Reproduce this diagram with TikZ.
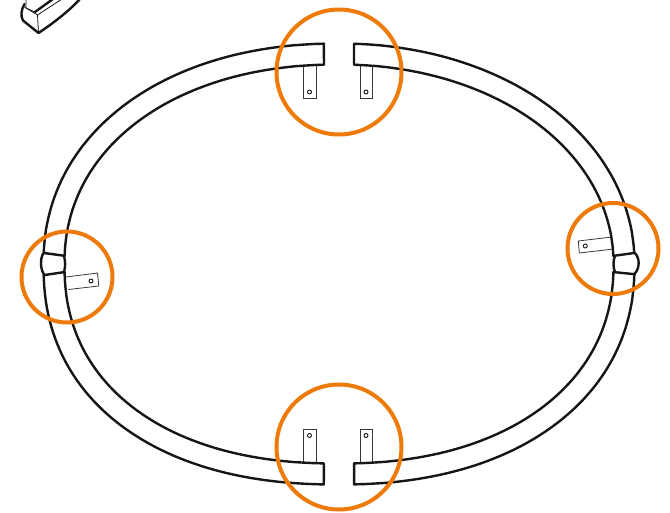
\documentclass[tikz,border=0pt]{standalone}
\definecolor{ringorange}{HTML}{EE7A0A}
\definecolor{ink}{HTML}{161616}
% #1,#2 quadrant signs, #3 exponent, #4,#5 outer and inner half-height of the joint gap
\newcommand{\ringquad}[5]{%
  \pgfmathsetmacro{\ta}{asin(pow(#4/220.5,#3/2))}%
  \pgfmathsetmacro{\tb}{acos(pow(15/295.5,#3/2))}%
  \pgfmathsetmacro{\tc}{acos(pow(15/274.5,#3/2))}%
  \pgfmathsetmacro{\td}{asin(pow(#5/199.5,#3/2))}%
  \draw[ring] plot[domain=\ta:\tb,samples=120] ({339+#1*295.5*pow(cos(\x),2/#3)},{264-#2*220.5*pow(sin(\x),2/#3)})
    -- plot[domain=\tc:\td,samples=120] ({339+#1*274.5*pow(cos(\x),2/#3)},{264-#2*199.5*pow(sin(\x),2/#3)}) -- cycle;}
\tikzset{
  ring/.style={draw=ink,line width=2.4pt,line join=round,line cap=round},
  tab/.style={draw=ink!85,line width=0.8pt,line join=miter},
  hole/.style={draw=ink,line width=0.9pt,fill=white},
  callout/.style={draw=ringorange,line width=4pt},
  thin part/.style={draw=ink,line width=0.8pt},
}
\begin{document}
\begin{tikzpicture}[x=1pt,y=-1pt]
\useasboundingbox (0,0) rectangle (670,512);
\fill[white] (0,0) rectangle (670,512);
% tabs
\draw[tab] (303,65) -- (303,98.5) -- (316,98.5) -- (316,64);
\draw[tab] (360,64) -- (360,98.5) -- (372.5,98.5) -- (372.5,65);
\draw[tab] (303,462.5) -- (303,429) -- (316,429) -- (316,463);
\draw[tab] (360,463) -- (360,429) -- (372.5,429) -- (372.5,462.5);
\draw[tab] (66,277) -- (97.5,273) -- (98.8,286) -- (68.5,289.5);
\draw[tab] (612,237) -- (578.3,241) -- (579.3,253) -- (613.5,249);
\draw[hole] (309.5,92) circle (2);
\draw[hole] (366,92) circle (2);
\draw[hole] (309.5,435.5) circle (2);
\draw[hole] (366,435.5) circle (2);
\draw[hole] (91,281) circle (2);
\draw[hole] (585.3,246) circle (2);
% ring segments
\ringquad{-1}{1}{2.14}{11}{8}
\ringquad{-1}{-1}{2.25}{11}{8}
\ringquad{1}{1}{2.05}{11}{8}
\ringquad{1}{-1}{2.2}{10}{8}
% joints
\draw[ring] (43.7,253) .. controls (40,257) and (40,270) .. (44.5,275);
\draw[ring] (64,256) .. controls (65.5,261) and (65.5,267) .. (64,272);
\draw[ring] (634.8,253) .. controls (640,258) and (640,268) .. (634.5,274);
\draw[ring] (615,256) .. controls (613,260) and (613,268) .. (615,272);
% fragment of another part, top left
\begin{scope}
\clip (0,0) rectangle (120,60);
\draw[thin part] (24.5,7) -- (37.5,15) -- (38.5,33);
\draw[thin part] (37.5,15) -- (62,-1);
\draw[thin part] (26,-1) -- (26,8) -- (35,12);
\draw[ring] (35,12) -- (53,-1);
\draw[ring] (24.5,4) .. controls (21,10) and (20.5,16) .. (23,20.5) -- (38.5,33) .. controls (52,24) and (68,12) .. (80,-1);
\end{scope}
% callouts
\draw[callout] (339,72) circle (62.5);
\draw[callout] (339,447) circle (62.5);
\draw[callout] (67,277) circle (45.5);
\draw[callout] (613,248.5) circle (45.5);
\end{tikzpicture}
\end{document}
